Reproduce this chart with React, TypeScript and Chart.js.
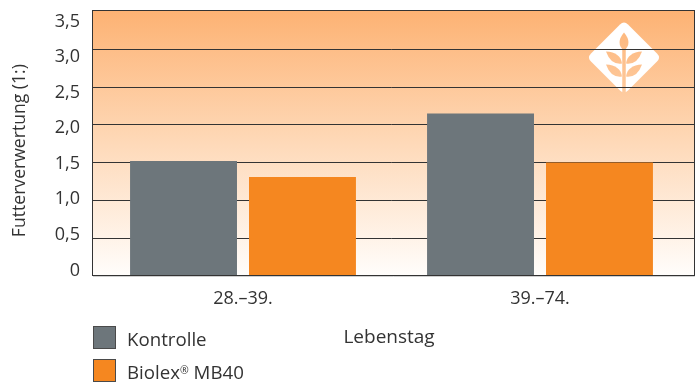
import React, { useEffect, useRef } from "react";
import { Chart, registerables } from "chart.js";

Chart.register(...registerables);

const FONT = '"Open Sans", sans-serif';
const FONT_SIZE = 18;
const LEGEND_FONT_SIZE = 18.7;
const INK = "#333333";

const categories = ["28.–39.", "39.–74."];
const kontrolle = [1.52, 2.15];
const biolex = [1.31, 1.5];
const tickValues = [0, 0.5, 1, 1.5, 2, 2.5, 3, 3.5];
const seriesNames = ["Kontrolle", "Biolex® MB40"];
const seriesColors = ["#6d767b", "#f58720"];

const formatTick = (v: number) => (v === 0 ? "0" : v.toFixed(1).replace(".", ","));

const frameEdges = (chart: any) => ({
  left: Math.floor(chart.chartArea.left - 2.5),
  right: Math.ceil(chart.chartArea.right + 5),
  top: Math.floor(chart.chartArea.top - 1.8),
  bottom: Math.floor(chart.chartArea.bottom),
});

// Vertical wash behind the plot, also reused for the cut-outs of the emblem.
function wash(chart: any) {
  const { top, bottom } = frameEdges(chart);
  const g = chart.ctx.createLinearGradient(0, top, 0, bottom);
  g.addColorStop(0, "#fdb273");
  g.addColorStop(0.5, "#fed9b8");
  g.addColorStop(1, "#fffdfb");
  return g;
}

function kernel(ctx: CanvasRenderingContext2D, x0: number, y0: number, x1: number, y1: number, bulge: number) {
  // Pointed grain shape between two tips, fuller towards the stem end.
  const dx = x1 - x0;
  const dy = y1 - y0;
  const nx = -dy / Math.hypot(dx, dy);
  const ny = dx / Math.hypot(dx, dy);
  const cx = x0 + dx * 0.6;
  const cy = y0 + dy * 0.6;
  ctx.beginPath();
  ctx.moveTo(x0, y0);
  ctx.quadraticCurveTo(cx + nx * bulge, cy + ny * bulge, x1, y1);
  ctx.quadraticCurveTo(cx - nx * bulge, cy - ny * bulge, x0, y0);
  ctx.fill();
}

const framePlugin = {
  id: "frameAndEmblem",
  beforeDraw(chart: any) {
    const { ctx } = chart;
    const { left, right, top, bottom } = frameEdges(chart);
    const fill = wash(chart);
    ctx.save();
    ctx.fillStyle = fill;
    ctx.fillRect(left, top, right - left, bottom - top);

    // Emblem: white rounded diamond with a wheat ear cut out of it.
    const cx = 624;
    const cy = 57.5;
    const r = 37;
    const c = 4;
    ctx.fillStyle = "#ffffff";
    ctx.beginPath();
    ctx.moveTo(cx - c, cy - r + c);
    ctx.quadraticCurveTo(cx, cy - r, cx + c, cy - r + c);
    ctx.lineTo(cx + r - c, cy - c);
    ctx.quadraticCurveTo(cx + r, cy, cx + r - c, cy + c);
    ctx.lineTo(cx + c, cy + r - c);
    ctx.quadraticCurveTo(cx, cy + r, cx - c, cy + r - c);
    ctx.lineTo(cx - r + c, cy + c);
    ctx.quadraticCurveTo(cx - r, cy, cx - r + c, cy - c);
    ctx.closePath();
    ctx.fill();
    ctx.fillStyle = fill;
    ctx.fillRect(cx - 1.75, cy - 10, 3.5, 48);
    kernel(ctx, cx, cy - 25, cx, cy - 7, 9);
    for (const side of [-1, 1]) {
      kernel(ctx, cx + side * 18, cy - 6, cx + side * 2, cy + 6, 8);
      kernel(ctx, cx + side * 18, cy + 7, cx + side * 2, cy + 19, 8);
    }
    ctx.restore();
  },
  beforeDatasetsDraw(chart: any) {
    // Carry the grid lines through to the right edge of the frame.
    const { ctx, chartArea, scales } = chart;
    const { right } = frameEdges(chart);
    ctx.save();
    ctx.strokeStyle = INK;
    ctx.lineWidth = 1;
    for (const v of tickValues) {
      if (v === 3.5) continue;
      const y = Math.round(scales.y.getPixelForValue(v) - 0.5) + 0.5;
      ctx.beginPath();
      ctx.moveTo(chartArea.right - 1, y);
      ctx.lineTo(right, y);
      ctx.stroke();
    }
    ctx.restore();
  },
  afterDraw(chart: any) {
    const { ctx } = chart;
    const { left, right, top, bottom } = frameEdges(chart);
    ctx.save();
    ctx.strokeStyle = "#cfcfcf";
    ctx.lineWidth = 1;
    ctx.beginPath();
    ctx.moveTo(right + 0.5, top + 1);
    ctx.lineTo(right + 0.5, bottom + 1.5);
    ctx.lineTo(left + 1, bottom + 1.5);
    ctx.stroke();
    ctx.strokeStyle = INK;
    ctx.strokeRect(left + 0.5, top + 0.5, right - left, bottom - top);

    // Stacked legend under the axis, read from the datasets.
    ctx.textBaseline = "alphabetic";
    chart.data.datasets.forEach((ds: any, i: number) => {
      const y = 326 + i * 33;
      ctx.fillStyle = ds.backgroundColor;
      ctx.fillRect(93.5, y + 0.5, 22, 22);
      ctx.strokeStyle = "#4a4a4a";
      ctx.strokeRect(93.5, y + 0.5, 22, 22);
      ctx.fillStyle = INK;
      // The registered mark is set small and raised.
      let x = 127;
      const baseline = y + 20;
      String(ds.label)
        .split(/(®)/)
        .forEach((part: string) => {
          const sup = part === "®";
          ctx.font = `${sup ? 10.5 : LEGEND_FONT_SIZE}px ${FONT}`;
          ctx.fillText(part, x, sup ? baseline - 5 : baseline);
          x += ctx.measureText(part).width;
        });
    });
    ctx.restore();
  },
};

export default function App() {
  const ref = useRef<HTMLCanvasElement>(null);

  useEffect(() => {
    document.body.style.margin = "0";
    const chart = new Chart(ref.current!, {
      type: "bar",
      data: {
        labels: categories,
        datasets: [
          { label: seriesNames[0], data: kontrolle, backgroundColor: seriesColors[0], yAxisID: "y" },
          { label: seriesNames[1], data: biolex, backgroundColor: seriesColors[1], yAxisID: "y" },
        ],
      },
      plugins: [framePlugin],
      options: {
        responsive: false,
        animation: false,
        layout: { padding: { top: 11.8, right: 9.5, left: 0, bottom: 0 } },
        datasets: { bar: { categoryPercentage: 0.801, barPercentage: 0.899 } },
        plugins: { legend: { display: false }, tooltip: { enabled: false } },
        scales: {
          x: {
            grid: { display: false },
            border: { display: false },
            ticks: { color: INK, font: { family: FONT, size: FONT_SIZE }, padding: 4 },
            title: {
              display: true,
              text: "Lebenstag\u00a0",
              color: INK,
              font: { family: FONT, size: 19 },
              padding: { top: 0, bottom: 34 },
            },
            afterFit: (s: any) => {
              s.height = 107.3;
              s.paddingLeft = 0;
              s.paddingRight = 0;
            },
          },
          y: {
            min: 0,
            max: 3.5,
            position: "left",
            weight: 0,
            border: { display: false },
            grid: {
              // The uppermost line belongs to the frame.
              color: (c: any) => (c.tick && c.tick.value === 3.5 ? "transparent" : INK),
              tickColor: (c: any) => (c.tick && c.tick.value === 3.5 ? "transparent" : INK),
              lineWidth: 1,
              tickLength: 1.5,
            },
            ticks: { stepSize: 0.5, display: false },
            afterFit: (s: any) => {
              s.width = 1.5;
              s.paddingTop = 0;
              s.paddingBottom = 0;
            },
          },
          // Label axis: the tick text sits on its own slightly tighter spacing.
          yLabels: {
            type: "linear",
            position: "left",
            weight: 1,
            min: -0.073,
            max: 3.636,
            border: { display: false },
            grid: { display: false, drawTicks: false },
            afterBuildTicks: (s: any) => {
              s.ticks = tickValues.map((value) => ({ value }));
            },
            ticks: {
              color: INK,
              font: { family: FONT, size: FONT_SIZE },
              padding: 13,
              autoSkip: false,
              callback: (v: any) => formatTick(Number(v)),
            },
            title: {
              display: true,
              text: "Futterverwertung (1:)\u00a0\u00a0\u00a0",
              color: INK,
              font: { family: FONT, size: 17.6 },
              padding: { top: 9, bottom: 0 },
            },
            afterFit: (s: any) => {
              s.width = 93;
              s.paddingTop = 0;
              s.paddingBottom = 0;
            },
          },
        },
      } as any,
    });
    return () => chart.destroy();
  }, []);

  return <canvas ref={ref} width={698} height={383} style={{ display: "block" }} />;
}
